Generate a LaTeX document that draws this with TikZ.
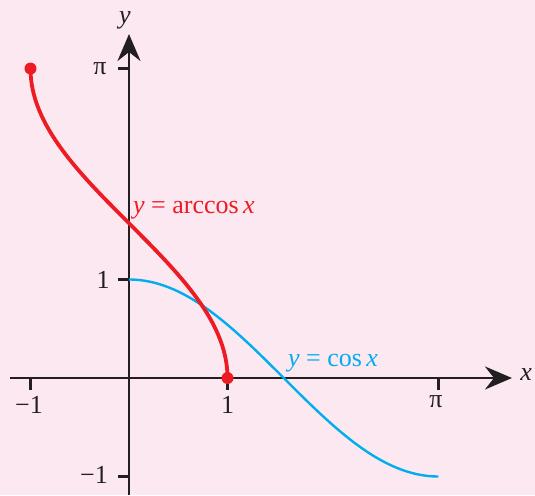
\documentclass[tikz,border=0pt]{standalone}
\usepackage{fontspec}
\setmainfont{Liberation Serif}
\usetikzlibrary{arrows.meta}
\definecolor{bg}{HTML}{FCE8F0}
\definecolor{cred}{HTML}{ED1C24}
\definecolor{cblue}{HTML}{00AEEF}
\definecolor{axiscol}{HTML}{231F20}
\begin{document}
\begin{tikzpicture}[x=98.5pt,y=98.5pt,
  font=\fontsize{26}{30}\selectfont,
  axisline/.style={axiscol, line width=2.6pt, -{Stealth[length=27pt,width=23pt,inset=9pt]}},
  tickmark/.style={axiscol, line width=2.6pt},
  ticklabel/.style={text=axiscol, inner sep=0pt},
  reddot/.style={circle, fill=cred, inner sep=0pt, minimum size=12pt},
  redcurve/.style={cred, line width=3.8pt},
  bluecurve/.style={cblue, line width=2.4pt}]
\fill[bg] (-1.3096,-1.1878) rectangle (4.1218,3.8376);
\useasboundingbox (-1.3096,-1.1878) rectangle (4.1218,3.8376);
% axes
\coordinate (xs) at (-1.208,0);
\coordinate (xe) at (3.888,0);
\coordinate (ys) at (0,-1.1878);
\coordinate (ye) at (0,3.492);
\draw[axisline] (xs) -- (xe);
\draw[axisline] (ys) -- (ye);
% ticks
\foreach \t/\n in {-1/xm, 1/xo, 3.1416/xp}
  \draw[tickmark] (\t,0) coordinate (\n) -- ++(0,-0.122);
\foreach \t/\n in {3.1416/yp, 1/yo, -1/ym}
  \draw[tickmark] (0,\t) coordinate (\n) -- ++(-0.112,0);
% tick labels
\node[ticklabel] (lxm) at (-1.015,-0.274) {−1};
\node[ticklabel] (lxo) at (1.0,-0.274) {1};
\node[ticklabel] (lxp) at (3.117,-0.244) {π};
\node[ticklabel] (lyp) at (-0.294,3.137) {π};
\node[ticklabel] (lyo) at (-0.262,1.0) {1};
\node[ticklabel] (lym) at (-0.355,-0.985) {−1};
\node[ticklabel, anchor=mid west] (lx) at (3.97,0) {\textit{x}};
\node[ticklabel] (ly) at (-0.041,3.63) {\textit{y}};
% curves
\draw[bluecurve] plot[domain=0:3.1416, samples=120, smooth] (\x,{cos(\x r)});
\draw[redcurve] plot[domain=0:3.1416, samples=160, smooth, variable=\t] ({cos(\t r)},\t);
\node[reddot] (d1) at (-1,3.1416) {};
\node[reddot] (d2) at (1,0) {};
% labels
\node[anchor=base west, inner sep=0pt, text=cred] (la) at (0.04,1.675) {\textit{y} = arccos\,\textit{x}};
\node[anchor=base west, inner sep=0pt, text=cblue] (lc) at (1.614,0.112) {\textit{y} = cos\,\textit{x}};
\end{tikzpicture}
\end{document}
